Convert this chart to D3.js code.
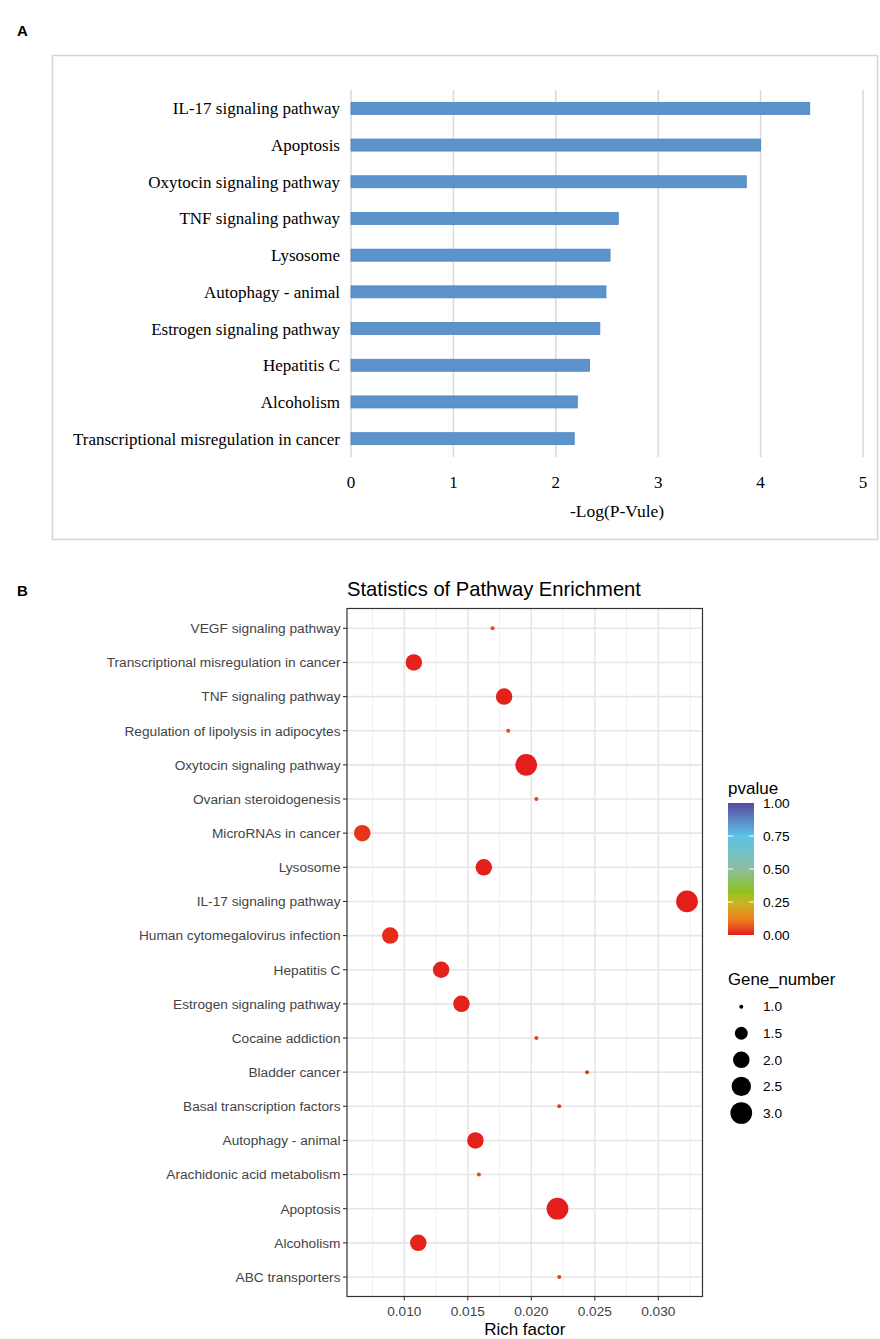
<!DOCTYPE html>
<html>
<head>
<meta charset="utf-8">
<script src="https://cdn.jsdelivr.net/npm/d3@7"></script>
<style>
  html, body { margin: 0; padding: 0; background: #fff; }
  svg { display: block; }
</style>
</head>
<body>
<div id="chart"></div>
<script>
// Panel A: top pathways by -log10(p)
const barPathways = ['IL-17 signaling pathway','Apoptosis','Oxytocin signaling pathway','TNF signaling pathway','Lysosome','Autophagy - animal','Estrogen signaling pathway','Hepatitis C','Alcoholism','Transcriptional misregulation in cancer'];
const barValues = [4.48, 4.00, 3.86, 2.61, 2.53, 2.49, 2.43, 2.33, 2.21, 2.18];
const barTicks = [0, 1, 2, 3, 4, 5];

// Panel B: bubble chart (top to bottom as drawn)
const dotPathways = ['VEGF signaling pathway','Transcriptional misregulation in cancer','TNF signaling pathway','Regulation of lipolysis in adipocytes','Oxytocin signaling pathway','Ovarian steroidogenesis','MicroRNAs in cancer','Lysosome','IL-17 signaling pathway','Human cytomegalovirus infection','Hepatitis C','Estrogen signaling pathway','Cocaine addiction','Bladder cancer','Basal transcription factors','Autophagy - animal','Arachidonic acid metabolism','Apoptosis','Alcoholism','ABC transporters'];
const richFactor = [0.01695, 0.01075, 0.01786, 0.01818, 0.0196, 0.0204, 0.00669, 0.01626, 0.03226, 0.00889, 0.0129, 0.0145, 0.0204, 0.02439, 0.0222, 0.0156, 0.01587, 0.02206, 0.0111, 0.0222];
const geneNumber = [1, 2, 2, 1, 3, 1, 2, 2, 3, 2, 2, 2, 1, 1, 1, 2, 1, 3, 2, 1];
const pValue = [0.047, 0.0066, 0.0025, 0.044, 0.00014, 0.040, 0.028, 0.0029, 0.000033, 0.017, 0.0046, 0.0037, 0.040, 0.034, 0.036, 0.0032, 0.049, 0.0001, 0.0062, 0.036];
const richTicks = [0.010, 0.015, 0.020, 0.025, 0.030];
const richMinor = [0.0075, 0.0125, 0.0175, 0.0225, 0.0275, 0.0325];
const pTicks = [0, 0.25, 0.5, 0.75, 1];
const sizeTicks = [1.0, 1.5, 2.0, 2.5, 3.0];
const colorStops = [[0,'#E41E1B'],[0.12,'#EF801F'],[0.25,'#C7B620'],[0.33,'#8CC21F'],[0.5,'#8DBD9E'],[0.75,'#5CC3E8'],[1,'#5A489E']];

const W = 880, H = 1339;
const svg = d3.select('#chart').append('svg').attr('width', W).attr('height', H);

// ---------- Panel A ----------
svg.append('text').attr('x', 17).attr('y', 36).attr('font-family','Liberation Sans, Arial, sans-serif')
  .attr('font-weight','bold').attr('font-size', 15).text('A');
svg.append('rect').attr('x', 52.5).attr('y', 55.5).attr('width', 825).attr('height', 484)
  .attr('fill','none').attr('stroke','#d4d4d4').attr('stroke-width', 1.5);

const xA = d3.scaleLinear().domain([0, 5]).range([351, 863]);
const yA = d3.scaleBand().domain(barPathways).range([90, 457]);
const gA = svg.append('g').attr('font-family','Liberation Serif, Times New Roman, serif');

gA.selectAll('line.grid').data(barTicks).enter().append('line')
  .attr('x1', d => xA(d)).attr('x2', d => xA(d)).attr('y1', 90).attr('y2', 457)
  .attr('stroke','#d9d9d9').attr('stroke-width', 1.5);

const barH = 12;
gA.selectAll('rect.bar').data(barPathways).enter().append('rect')
  .attr('x', xA(0)).attr('y', d => yA(d) + yA.bandwidth()/2 - barH/2)
  .attr('width', (d, i) => xA(barValues[i]) - xA(0)).attr('height', barH)
  .attr('fill','#5B93CA').attr('stroke','#4C84C2').attr('stroke-width', 0.8);

gA.selectAll('text.lab').data(barPathways).enter().append('text')
  .attr('x', 340).attr('y', d => yA(d) + yA.bandwidth()/2).attr('dy','0.35em')
  .attr('text-anchor','end').attr('font-size', 17).attr('fill','#000').text(d => d);

gA.selectAll('text.tick').data(barTicks).enter().append('text')
  .attr('x', d => xA(d)).attr('y', 482).attr('dy','0.35em').attr('text-anchor','middle')
  .attr('font-size', 17).attr('fill','#000').text(d => d);

gA.append('text').attr('x', 617).attr('y', 511).attr('dy','0.35em').attr('text-anchor','middle')
  .attr('font-size', 17.5).attr('fill','#000').text('-Log(P-Vule)');

// ---------- Panel B ----------
svg.append('text').attr('x', 17).attr('y', 596).attr('font-family','Liberation Sans, Arial, sans-serif')
  .attr('font-weight','bold').attr('font-size', 15).text('B');

const gB = svg.append('g').attr('font-family','Liberation Sans, Arial, sans-serif');
const pLeft = 347, pRight = 702.5, pTop = 608.5, pBottom = 1296.5;
const xB = d3.scaleLinear().domain([0.0100, 0.0300]).range([404.3, 658.3]);
const yB = d3.scalePoint().domain(dotPathways).range([628.3, 1277]);
const sizeB = d3.scaleSqrt().domain([0, 2]).range([4, 21.7]); // diameter vs (gene-1)
const colorB = d3.scaleLinear().domain(colorStops.map(s => s[0])).range(colorStops.map(s => s[1]));

gB.append('text').attr('x', 347).attr('y', 596).attr('font-size', 20.2).attr('fill','#000')
  .text('Statistics of Pathway Enrichment');

// grid
gB.selectAll('line.minor').data(richMinor).enter().append('line')
  .attr('x1', d => xB(d)).attr('x2', d => xB(d)).attr('y1', pTop).attr('y2', pBottom)
  .attr('stroke','#f0f0f0').attr('stroke-width', 1);
gB.selectAll('line.vmajor').data(richTicks).enter().append('line')
  .attr('x1', d => xB(d)).attr('x2', d => xB(d)).attr('y1', pTop).attr('y2', pBottom)
  .attr('stroke','#e6e6e6').attr('stroke-width', 1.6);
gB.selectAll('line.hmajor').data(dotPathways).enter().append('line')
  .attr('x1', pLeft).attr('x2', pRight).attr('y1', d => yB(d)).attr('y2', d => yB(d))
  .attr('stroke','#e6e6e6').attr('stroke-width', 1.6);

// dots
gB.selectAll('circle.dot').data(dotPathways).enter().append('circle')
  .attr('cx', (d, i) => xB(richFactor[i])).attr('cy', d => yB(d))
  .attr('r', (d, i) => sizeB(geneNumber[i] - 1) / 2)
  .attr('fill', (d, i) => colorB(pValue[i]));

// panel border
gB.append('rect').attr('x', pLeft).attr('y', pTop).attr('width', pRight - pLeft).attr('height', pBottom - pTop)
  .attr('fill','none').attr('stroke','#333').attr('stroke-width', 1.2);

// y axis
gB.selectAll('line.ytick').data(dotPathways).enter().append('line')
  .attr('x1', pLeft - 4).attr('x2', pLeft).attr('y1', d => yB(d)).attr('y2', d => yB(d))
  .attr('stroke','#333').attr('stroke-width', 1.1);
gB.selectAll('text.ylab').data(dotPathways).enter().append('text')
  .attr('x', pLeft - 6.5).attr('y', d => yB(d)).attr('dy','0.35em').attr('text-anchor','end')
  .attr('font-size', 13.7).attr('fill','#444').text(d => d);

// x axis
gB.selectAll('line.xtick').data(richTicks).enter().append('line')
  .attr('x1', d => xB(d)).attr('x2', d => xB(d)).attr('y1', pBottom).attr('y2', pBottom + 4)
  .attr('stroke','#333').attr('stroke-width', 1.1);
gB.selectAll('text.xlab').data(richTicks).enter().append('text')
  .attr('x', d => xB(d)).attr('y', pBottom + 15).attr('dy','0.35em').attr('text-anchor','middle')
  .attr('font-size', 13.7).attr('fill','#444').text(d => d3.format('.3f')(d));
gB.append('text').attr('x', (pLeft + pRight) / 2).attr('y', pBottom + 33).attr('dy','0.35em')
  .attr('text-anchor','middle').attr('font-size', 17).attr('fill','#000').text('Rich factor');

// colour legend
const defs = svg.append('defs');
const grad = defs.append('linearGradient').attr('id','pgrad').attr('x1',0).attr('y1',1).attr('x2',0).attr('y2',0);
grad.selectAll('stop').data(colorStops).enter().append('stop')
  .attr('offset', d => d[0]).attr('stop-color', d => d[1]);
const cbTop = 803, cbBot = 935, cbX = 728, cbW = 26;
const yP = d3.scaleLinear().domain([0, 1]).range([cbBot, cbTop]);
gB.append('text').attr('x', 728).attr('y', 794).attr('font-size', 17).attr('fill','#000').text('pvalue');
gB.append('rect').attr('x', cbX).attr('y', cbTop).attr('width', cbW).attr('height', cbBot - cbTop)
  .attr('fill','url(#pgrad)');
pTicks.forEach(t => {
  if (t > 0 && t < 1) {
    gB.append('line').attr('x1', cbX).attr('x2', cbX + 5).attr('y1', yP(t)).attr('y2', yP(t)).attr('stroke','#fff').attr('stroke-width', 1);
    gB.append('line').attr('x1', cbX + cbW - 5).attr('x2', cbX + cbW).attr('y1', yP(t)).attr('y2', yP(t)).attr('stroke','#fff').attr('stroke-width', 1);
  }
});
gB.selectAll('text.plab').data(pTicks).enter().append('text')
  .attr('x', 763).attr('y', d => yP(d)).attr('dy','0.35em').attr('font-size', 13.7).attr('fill','#000')
  .text(d => d3.format('.2f')(d));

// size legend
gB.append('text').attr('x', 728).attr('y', 985).attr('font-size', 16.8).attr('fill','#000').text('Gene_number');
const ySz = d3.scalePoint().domain(sizeTicks).range([1006.7, 1113]);
gB.selectAll('circle.sz').data(sizeTicks).enter().append('circle')
  .attr('cx', 741.3).attr('cy', d => ySz(d)).attr('r', d => sizeB(d - 1) / 2).attr('fill','#000');
gB.selectAll('text.szlab').data(sizeTicks).enter().append('text')
  .attr('x', 763).attr('y', d => ySz(d)).attr('dy','0.35em').attr('font-size', 13.7).attr('fill','#000')
  .text(d => d3.format('.1f')(d));
</script>
</body>
</html>
